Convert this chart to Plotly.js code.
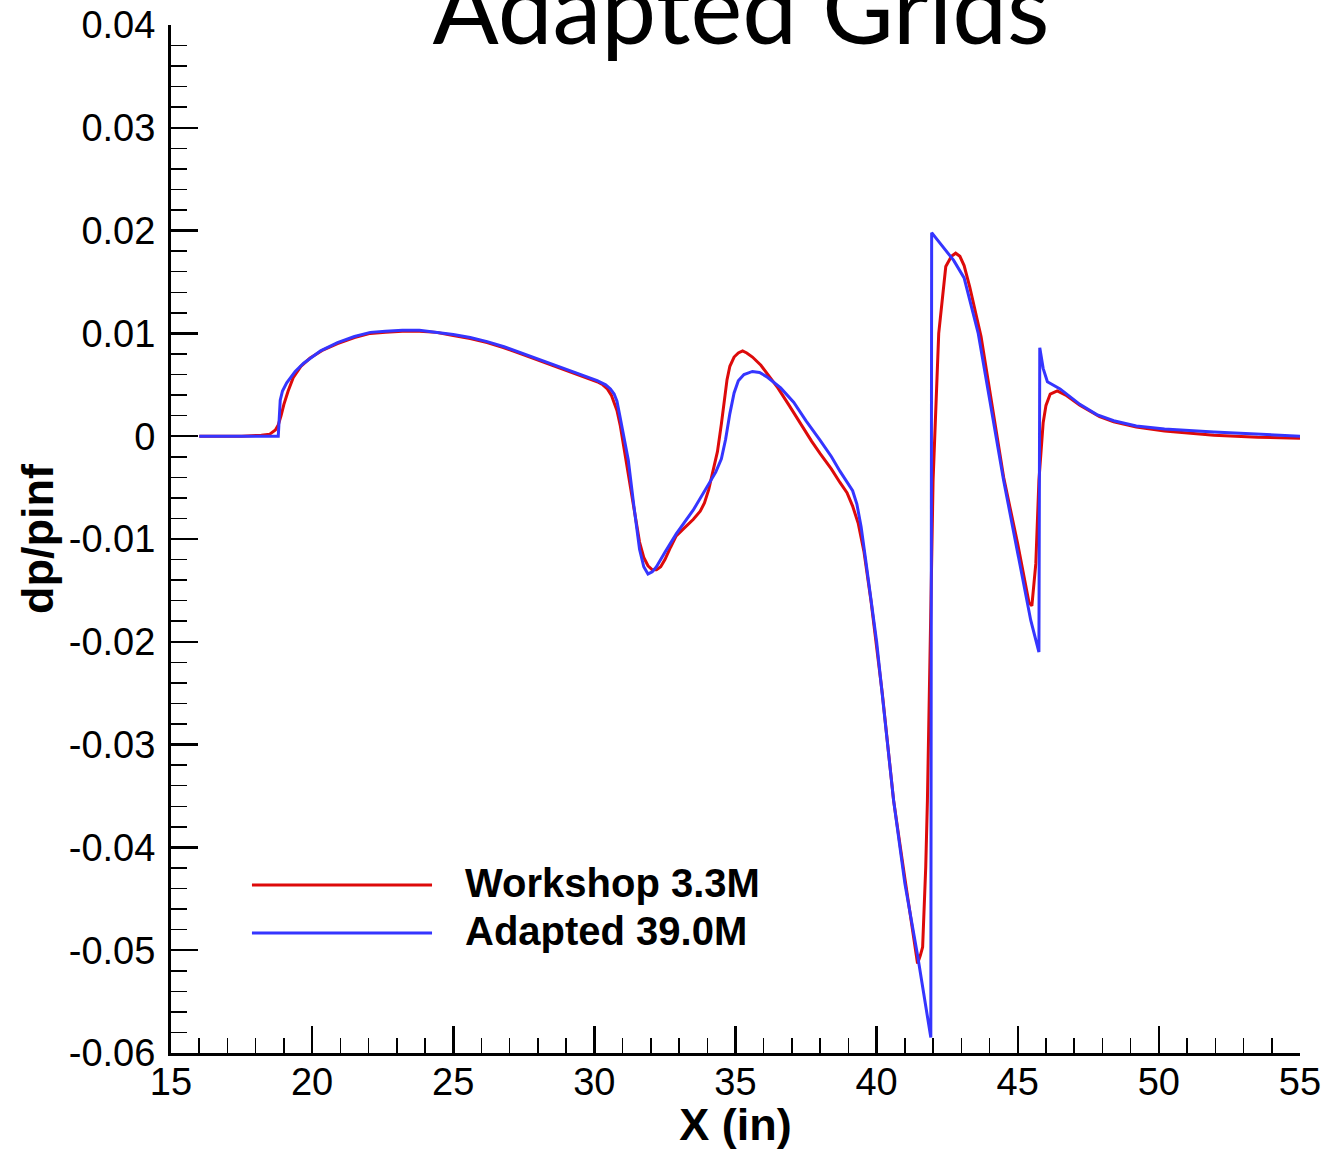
<!DOCTYPE html>
<html>
<head>
<meta charset="utf-8">
<script src="https://cdn.plot.ly/plotly-3.0.1.min.js"></script>
<style>html,body{margin:0;padding:0;background:#fff;}#chart{width:1326px;height:1150px;}</style>
</head>
<body>
<div id="chart"></div>
<script>
// Workshop 3.3M grid (red)
const workshopX = [16, 17.5, 18.2, 18.5, 18.7, 18.8, 18.9, 19.0, 19.15, 19.33, 19.6, 19.93, 20.4, 20.9, 21.5, 22.06, 22.6, 23.2, 23.8, 24.4, 25.0, 25.6, 26.2, 26.8, 27.4, 28.0, 28.6, 29.15, 29.6, 30.1, 30.3, 30.46, 30.6, 30.7, 30.8, 30.92, 31.05, 31.4, 31.6, 31.75, 31.9, 32.05, 32.2, 32.35, 32.5, 32.7, 32.9, 33.2, 33.5, 33.75, 33.9, 34.05, 34.2, 34.36, 34.5, 34.6, 34.7, 34.8, 34.95, 35.1, 35.25, 35.4, 35.6, 35.9, 36.2, 36.5, 36.9, 37.3, 37.7, 38.0, 38.4, 38.7, 38.95, 39.15, 39.35, 39.55, 39.8, 40.2, 40.6, 41.0, 41.45, 41.55, 41.63, 41.74, 41.8, 41.9, 42.0, 42.2, 42.45, 42.65, 42.8, 42.95, 43.1, 43.3, 43.5, 43.7, 44.5, 45.0, 45.4, 45.5, 45.64, 45.75, 45.9, 46.0, 46.15, 46.4, 46.7, 47.2, 47.9, 48.4, 49.2, 50.2, 51.95, 53.5, 55.0];
const workshopY = [0, 0, 0.0001, 0.0002, 0.0006, 0.0011, 0.0020, 0.0031, 0.0044, 0.0057, 0.0068, 0.0076, 0.0084, 0.0090, 0.0096, 0.0100, 0.0101, 0.0102, 0.0102, 0.0101, 0.0098, 0.0095, 0.0091, 0.0086, 0.0080, 0.0074, 0.0068, 0.0062, 0.0058, 0.0053, 0.0050, 0.0046, 0.0040, 0.0033, 0.0025, 0.0010, -0.0012, -0.0072, -0.0103, -0.0118, -0.0126, -0.0130, -0.0130, -0.0127, -0.0120, -0.0108, -0.0097, -0.0089, -0.0081, -0.0073, -0.0065, -0.0052, -0.0035, -0.0015, 0.0012, 0.0035, 0.0055, 0.0068, 0.0077, 0.0081, 0.0083, 0.0081, 0.0077, 0.0069, 0.0058, 0.0047, 0.0030, 0.0012, -0.0005, -0.0017, -0.0032, -0.0045, -0.0055, -0.0068, -0.0085, -0.0112, -0.0160, -0.0250, -0.0354, -0.0430, -0.0513, -0.0505, -0.0497, -0.0419, -0.0354, -0.0200, -0.0043, 0.0100, 0.0165, 0.0175, 0.0178, 0.0175, 0.0166, 0.0145, 0.0120, 0.0097, -0.0040, -0.0105, -0.0162, -0.0165, -0.0124, -0.0043, 0.0013, 0.0030, 0.0041, 0.0044, 0.0040, 0.0030, 0.0019, 0.0014, 0.0009, 0.0005, 0.0001, -0.0001, -0.0002];

// Adapted 39.0M grid (blue)
const adaptedX = [16, 18.8, 18.82, 18.87, 18.95, 19.1, 19.4, 19.7, 20.3, 20.9, 21.5, 22.06, 22.6, 23.2, 23.8, 24.4, 25.0, 25.6, 26.2, 26.8, 27.4, 28.0, 28.6, 29.15, 29.6, 30.1, 30.4, 30.57, 30.7, 30.8, 30.9, 31.03, 31.2, 31.4, 31.6, 31.75, 31.9, 32.05, 32.2, 32.5, 32.9, 33.5, 34.0, 34.3, 34.5, 34.65, 34.8, 34.95, 35.1, 35.3, 35.6, 35.85, 36.1, 36.6, 37.06, 37.5, 38.0, 38.4, 38.7, 38.95, 39.15, 39.3, 39.45, 39.6, 40.0, 40.6, 41.0, 41.45, 41.92, 41.95, 42.73, 43.1, 43.6, 44.5, 45.46, 45.75, 45.78, 45.9, 46.05, 46.5, 47.2, 47.8, 48.4, 49.2, 50.2, 51.95, 53.5, 55.0];
const adaptedY = [0, 0, 0.0010, 0.0035, 0.0044, 0.0052, 0.0063, 0.0071, 0.0083, 0.0091, 0.0097, 0.0101, 0.0102, 0.0103, 0.0103, 0.0101, 0.0099, 0.0096, 0.0092, 0.0087, 0.0081, 0.0075, 0.0069, 0.0063, 0.0059, 0.0054, 0.0050, 0.0046, 0.0041, 0.0034, 0.0020, 0.0002, -0.0023, -0.0068, -0.0110, -0.0127, -0.0134, -0.0132, -0.0127, -0.0113, -0.0095, -0.0072, -0.0049, -0.0035, -0.0022, -0.0003, 0.0022, 0.0042, 0.0054, 0.0060, 0.0063, 0.0062, 0.0058, 0.0047, 0.0033, 0.0015, -0.0004, -0.0020, -0.0034, -0.0044, -0.0053, -0.0066, -0.0088, -0.0118, -0.0200, -0.0354, -0.0435, -0.0505, -0.0585, 0.0198, 0.0171, 0.0154, 0.0100, -0.0043, -0.0179, -0.0210, 0.0086, 0.0066, 0.0053, 0.0046, 0.0031, 0.0021, 0.0015, 0.0010, 0.0007, 0.0004, 0.0002, 0.0000];

const seriesNames = ['Workshop 3.3M', 'Adapted 39.0M'];
const seriesColors = ['#dd0a0a', '#3535ff'];

const xTickVals = [15, 20, 25, 30, 35, 40, 45, 50, 55];
const xTickLabels = ['15', '20', '25', '30', '35', '40', '45', '50', '55'];
const yTickVals = [-0.06, -0.05, -0.04, -0.03, -0.02, -0.01, 0, 0.01, 0.02, 0.03, 0.04];
const yTickLabels = ['-0.06', '-0.05', '-0.04', '-0.03', '-0.02', '-0.01', '0', '0.01', '0.02', '0.03', '0.04'];

const titleText = 'Adapted Grids';
const xTitle = 'X (in)';
const yTitle = 'dp/pinf';

const traces = [
  {x: workshopX, y: workshopY, name: seriesNames[0], mode: 'lines', line: {color: seriesColors[0], width: 3}},
  {x: adaptedX, y: adaptedY, name: seriesNames[1], mode: 'lines', line: {color: seriesColors[1], width: 3}}
];

const tickFont = {family: '"Liberation Sans", Arial, sans-serif', size: 38, color: '#000'};
const boldFont = {family: '"Liberation Sans", Arial, sans-serif', size: 45, color: '#000', weight: 'bold'};

// legend drawn with paper-positioned samples
const legendRows = [0.1640, 0.1173];
const shapes = legendRows.map((yy, i) => ({
  type: 'line', xref: 'paper', yref: 'paper', x0: 0.0717, x1: 0.2312, y0: yy - 0.0006, y1: yy - 0.0006,
  line: {color: seriesColors[i], width: 3}
}));
const annotations = legendRows.map((yy, i) => ({
  xref: 'paper', yref: 'paper', x: 0.2586, y: yy + 0.001, xanchor: 'left', yanchor: 'middle',
  text: '<b>' + seriesNames[i] + '</b>', showarrow: false,
  font: {family: '"Liberation Sans", Arial, sans-serif', size: 40, color: '#000'}
}));

const layout = {
  width: 1326, height: 1150,
  margin: {l: 171, r: 26, t: 25, b: 97},
  paper_bgcolor: '#fff', plot_bgcolor: '#fff',
  showlegend: false,
  title: {
    text: titleText, x: 0.5588, xanchor: 'center', xref: 'container',
    y: 0.9915, yanchor: 'middle', yref: 'container',
    font: {family: 'Lato, "Open Sans", sans-serif', size: 98, color: '#000'}
  },
  xaxis: {
    range: [15, 55], showgrid: false, zeroline: false,
    showline: true, linecolor: '#000', linewidth: 3,
    ticks: 'inside', ticklen: 27, tickwidth: 2.5, tickcolor: '#000',
    tickmode: 'array', tickvals: xTickVals, ticktext: xTickLabels,
    tickfont: tickFont, ticklabelstandoff: -7,
    minor: {ticks: 'inside', ticklen: 15, tickwidth: 1.5, tickcolor: '#000', dtick: 1, tick0: 15, showgrid: false},
    title: {text: xTitle, font: boldFont, standoff: 6}
  },
  yaxis: {
    range: [-0.06, 0.04], showgrid: false, zeroline: false,
    showline: true, linecolor: '#000', linewidth: 3,
    ticks: 'inside', ticklen: 27, tickwidth: 2.5, tickcolor: '#000',
    tickmode: 'array', tickvals: yTickVals, ticktext: yTickLabels,
    tickfont: tickFont, ticklabelstandoff: 5,
    minor: {ticks: 'inside', ticklen: 16, tickwidth: 1.5, tickcolor: '#000', dtick: 0.002, tick0: 0, showgrid: false},
    title: {text: yTitle, font: boldFont, standoff: 2}
  },
  shapes: shapes,
  annotations: annotations
};

Plotly.newPlot('chart', traces, layout, {displayModeBar: false, staticPlot: true});
</script>
</body>
</html>
